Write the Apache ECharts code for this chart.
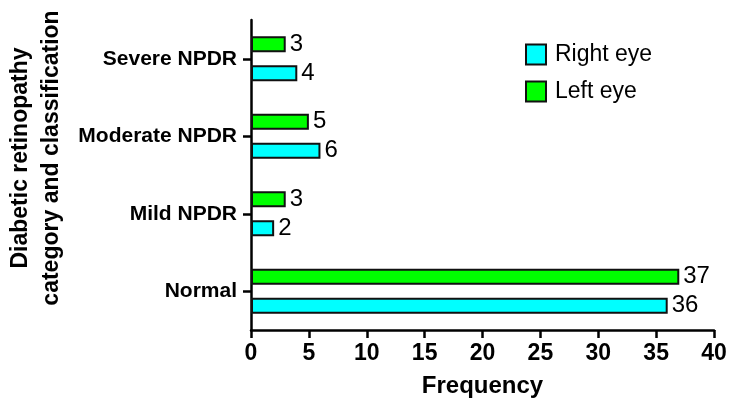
<!DOCTYPE html>
<html>
<head>
<meta charset="utf-8">
<script src="https://cdn.jsdelivr.net/npm/echarts@6/dist/echarts.min.js"></script>
<style>html,body{margin:0;padding:0;background:#fff}#c{width:738px;height:406px}</style>
</head>
<body>
<div id="c"></div>
<script>
var categories = ['Normal', 'Mild NPDR', 'Moderate NPDR', 'Severe NPDR'];
var rightEye = [36, 2, 6, 4];
var leftEye = [37, 3, 5, 3];
var xTicks = [0, 5, 10, 15, 20, 25, 30, 35, 40];

var FONT = 'Arial, "Liberation Sans", sans-serif';
var chart = echarts.init(document.getElementById('c'));
chart.setOption({
  animation: false,
  backgroundColor: '#fff',
  grid: { left: 251, right: 24, top: 20, bottom: 76, containLabel: false },
  legend: {
    left: 520, top: 38, orient: 'vertical', itemWidth: 20, itemHeight: 20, itemGap: 14,
    icon: 'rect',
    textStyle: { fontFamily: FONT, fontSize: 23, color: '#000', padding: [0, 0, 0, 4] },
    data: ['Right eye', 'Left eye']
  },
  xAxis: {
    type: 'value', min: xTicks[0], max: xTicks[xTicks.length - 1], interval: 5,
    splitLine: { show: false },
    axisLine: { show: true, lineStyle: { color: '#000', width: 2.5 } },
    axisTick: { show: true, length: 8, lineStyle: { color: '#000', width: 2.5 } },
    axisLabel: { fontFamily: FONT, fontSize: 23, fontWeight: 'bold', color: '#000', margin: 12 },
    name: 'Frequency', nameLocation: 'middle', nameGap: 44,
    nameTextStyle: { fontFamily: FONT, fontSize: 24, fontWeight: 'bold', color: '#000' }
  },
  yAxis: {
    type: 'category', data: categories,
    axisLine: { show: true, lineStyle: { color: '#000', width: 2.5 } },
    axisTick: { show: true, alignWithLabel: true, length: 8, lineStyle: { color: '#000', width: 2.5 } },
    axisLabel: { fontFamily: FONT, fontSize: 21, fontWeight: 'bold', color: '#000', margin: 14 }
  },
  graphic: [{
    type: 'text', x: 36, y: 158, rotation: Math.PI / 2,
    style: {
      text: 'Diabetic retinopathy\ncategory and classification',
      fontFamily: FONT, fontSize: 23, fontWeight: 'bold', fill: '#000',
      textAlign: 'center', textVerticalAlign: 'middle', lineHeight: 31
    }
  }],
  series: [
    {
      name: 'Left eye', type: 'bar', data: leftEye, barWidth: 16, barGap: '82%',
      itemStyle: { color: '#00FF00', borderColor: '#111', borderWidth: 2 },
      label: { show: true, position: 'right', distance: 4, fontFamily: FONT, fontSize: 24, color: '#000' }
    },
    {
      name: 'Right eye', type: 'bar', data: rightEye, barWidth: 16, barGap: '82%',
      itemStyle: { color: '#00FFFF', borderColor: '#111', borderWidth: 2 },
      label: { show: true, position: 'right', distance: 4, fontFamily: FONT, fontSize: 24, color: '#000' }
    }
  ]
});
</script>
</body>
</html>
